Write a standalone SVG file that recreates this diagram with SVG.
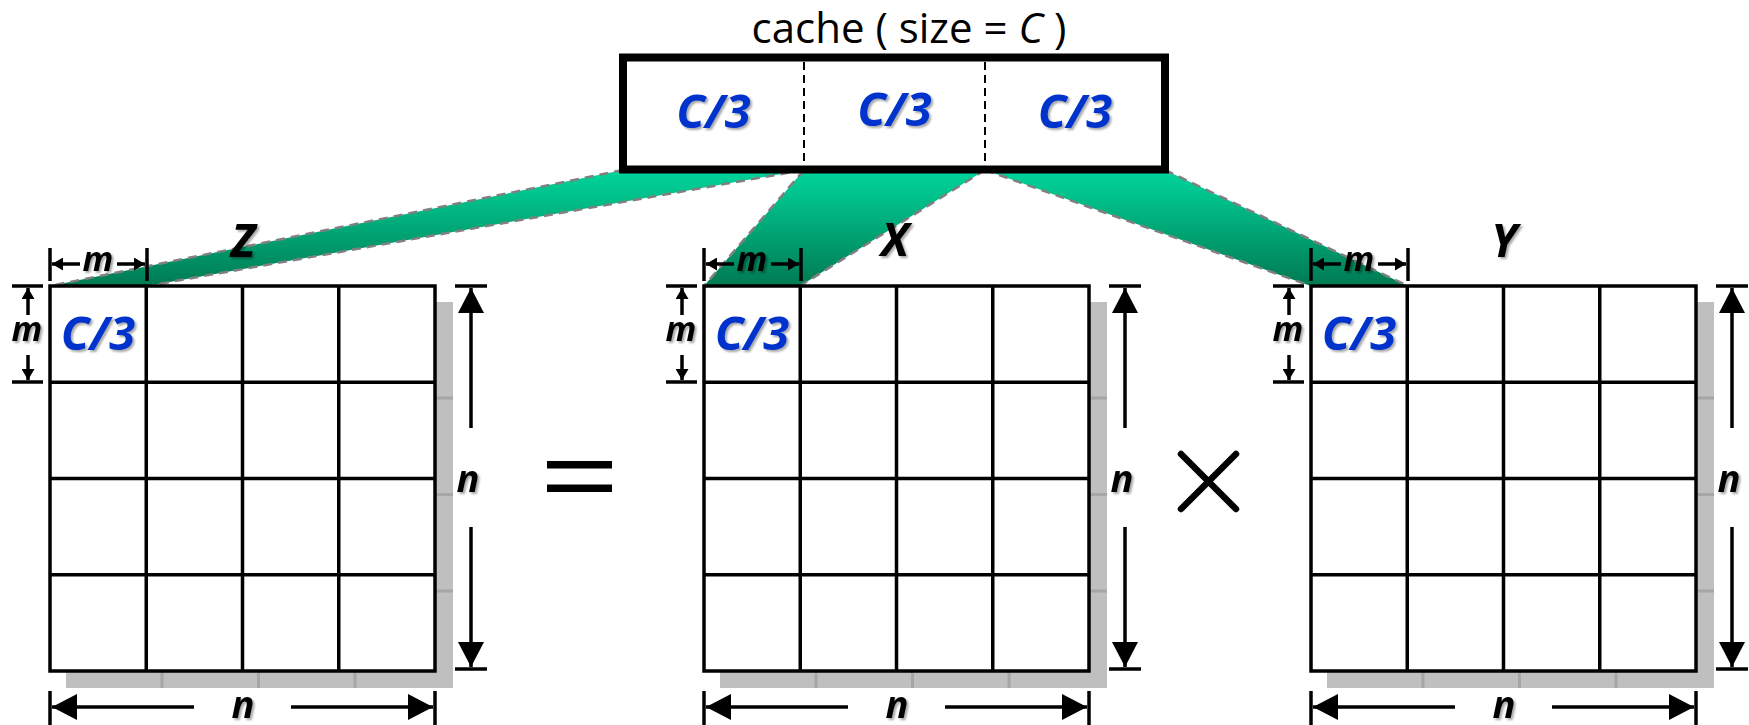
<svg xmlns="http://www.w3.org/2000/svg" width="1749" height="725" viewBox="0 0 1749 725">
<style>
.lbl{font-family:"Open Sans","Liberation Sans",sans-serif;font-weight:bold;font-style:italic;fill:#000;filter:url(#sh)}
.c3{font-family:"Open Sans","Liberation Sans",sans-serif;font-weight:bold;font-style:italic;fill:#0033cc;font-size:47px;text-anchor:middle;filter:url(#sh)}
.dim{stroke:#000;stroke-width:3.5;fill:none}
.grid{stroke:#000;stroke-width:3.5;fill:none}
.edge{stroke:#808080;stroke-width:2.5;stroke-dasharray:9 6;fill:none}
.shl{stroke:#a6a6a6;stroke-width:3}
</style>
<defs>
<filter id="sh" x="-20%" y="-20%" width="150%" height="150%">
<feDropShadow dx="2" dy="2" stdDeviation="1.2" flood-color="#000" flood-opacity="0.35"/>
</filter>
<linearGradient id="gr" gradientUnits="userSpaceOnUse" x1="0" y1="170" x2="0" y2="286">
<stop offset="0" stop-color="#00d69c"/>
<stop offset="1" stop-color="#007a52"/>
</linearGradient>
<marker id="an" viewBox="0 0 25 26" refX="25" refY="13" markerWidth="25" markerHeight="26" markerUnits="userSpaceOnUse" orient="auto">
<path d="M0,0 L25,13 L0,26 z" fill="#000"/>
</marker>
<marker id="am" viewBox="0 0 11 13" refX="11" refY="6.5" markerWidth="11" markerHeight="13" markerUnits="userSpaceOnUse" orient="auto">
<path d="M0,0 L11,6.5 L0,13 z" fill="#000"/>
</marker>
<g id="mat">
<rect x="66" y="302" width="387" height="386" fill="#bfbfbf"/>
<line class="shl" x1="162" y1="302" x2="162" y2="688"/>
<line class="shl" x1="258.5" y1="302" x2="258.5" y2="688"/>
<line class="shl" x1="355" y1="302" x2="355" y2="688"/>
<line class="shl" x1="66" y1="398" x2="453" y2="398"/>
<line class="shl" x1="66" y1="494.5" x2="453" y2="494.5"/>
<line class="shl" x1="66" y1="591" x2="453" y2="591"/>
<rect x="50" y="286" width="385" height="385" fill="#fff"/>
<path class="grid" d="M146.25,286V671M242.5,286V671M338.75,286V671M50,382.25H435M50,478.5H435M50,574.75H435"/>
<rect class="grid" x="50" y="286" width="385" height="385"/>
<line class="dim" x1="50" y1="248" x2="50" y2="281"/>
<line class="dim" x1="147" y1="248" x2="147" y2="281"/>
<line class="dim" x1="80" y1="264" x2="52" y2="264" marker-end="url(#am)"/>
<line class="dim" x1="117" y1="264" x2="145" y2="264" marker-end="url(#am)"/>
<text class="lbl" x="98" y="271" font-size="34" text-anchor="middle">m</text>
<line class="dim" x1="12" y1="286" x2="43" y2="286"/>
<line class="dim" x1="12" y1="382" x2="43" y2="382"/>
<line class="dim" x1="28" y1="315" x2="28" y2="288" marker-end="url(#am)"/>
<line class="dim" x1="28" y1="355" x2="28" y2="380" marker-end="url(#am)"/>
<text class="lbl" x="27" y="341" font-size="34" text-anchor="middle">m</text>
<line class="dim" x1="455" y1="286" x2="487" y2="286"/>
<line class="dim" x1="455" y1="669" x2="487" y2="669"/>
<line class="dim" x1="471" y1="428" x2="471" y2="288" marker-end="url(#an)"/>
<line class="dim" x1="471" y1="527" x2="471" y2="667" marker-end="url(#an)"/>
<text class="lbl" x="468" y="492" font-size="38" text-anchor="middle">n</text>
<line class="dim" x1="50" y1="691" x2="50" y2="725"/>
<line class="dim" x1="435" y1="691" x2="435" y2="725"/>
<line class="dim" x1="194" y1="707" x2="52" y2="707" marker-end="url(#an)"/>
<line class="dim" x1="291" y1="707" x2="433" y2="707" marker-end="url(#an)"/>
<text class="lbl" x="243" y="718" font-size="38" text-anchor="middle">n</text>
<text class="c3" x="98" y="350">C/3</text>
</g>
</defs>
<g id="connectors">
<polygon points="623,170 804,170 147,286 50,286" fill="url(#gr)"/>
<line class="edge" x1="623" y1="170" x2="50" y2="286"/>
<line class="edge" x1="804" y1="170" x2="147" y2="286"/>
<polygon points="804,170 985,170 800,286 704,286" fill="url(#gr)"/>
<line class="edge" x1="804" y1="170" x2="704" y2="286"/>
<line class="edge" x1="985" y1="170" x2="800" y2="286"/>
<polygon points="985,170 1165,170 1408,286 1311,286" fill="url(#gr)"/>
<line class="edge" x1="985" y1="170" x2="1311" y2="286"/>
<line class="edge" x1="1165" y1="170" x2="1408" y2="286"/>
</g>
<g id="cache">
<text x="909" y="43" font-family="Open Sans, Liberation Sans, sans-serif" font-size="42" text-anchor="middle" fill="#000">cache ( size = <tspan font-style="italic">C</tspan> )</text>
<rect x="623" y="57.5" width="542" height="112" fill="#fff" stroke="#000" stroke-width="8"/>
<line x1="804" y1="62" x2="804" y2="166" stroke="#000" stroke-width="2" stroke-dasharray="8 5"/>
<line x1="985" y1="62" x2="985" y2="166" stroke="#000" stroke-width="2" stroke-dasharray="8 5"/>
<text class="c3" x="713.5" y="128">C/3</text>
<text class="c3" x="894.5" y="126">C/3</text>
<text class="c3" x="1075" y="128">C/3</text>
</g>
<g id="matrixZ">
<use href="#mat"/>
<text class="lbl" x="243" y="257" font-size="46" text-anchor="middle">Z</text>
</g>
<g id="equals">
<rect x="547" y="461" width="65" height="7.5" fill="#000"/>
<rect x="547" y="484.5" width="65" height="7.5" fill="#000"/>
</g>
<g id="matrixX">
<use href="#mat" transform="translate(654,0)"/>
<text class="lbl" x="895" y="256" font-size="46" text-anchor="middle">X</text>
</g>
<g id="times">
<path d="M1181,454 L1236,509 M1236,454 L1181,509" stroke="#000" stroke-width="6.5" stroke-linecap="round"/>
</g>
<g id="matrixY">
<use href="#mat" transform="translate(1261,0)"/>
<text class="lbl" x="1504" y="257" font-size="46" text-anchor="middle">Y</text>
</g>
</svg>
